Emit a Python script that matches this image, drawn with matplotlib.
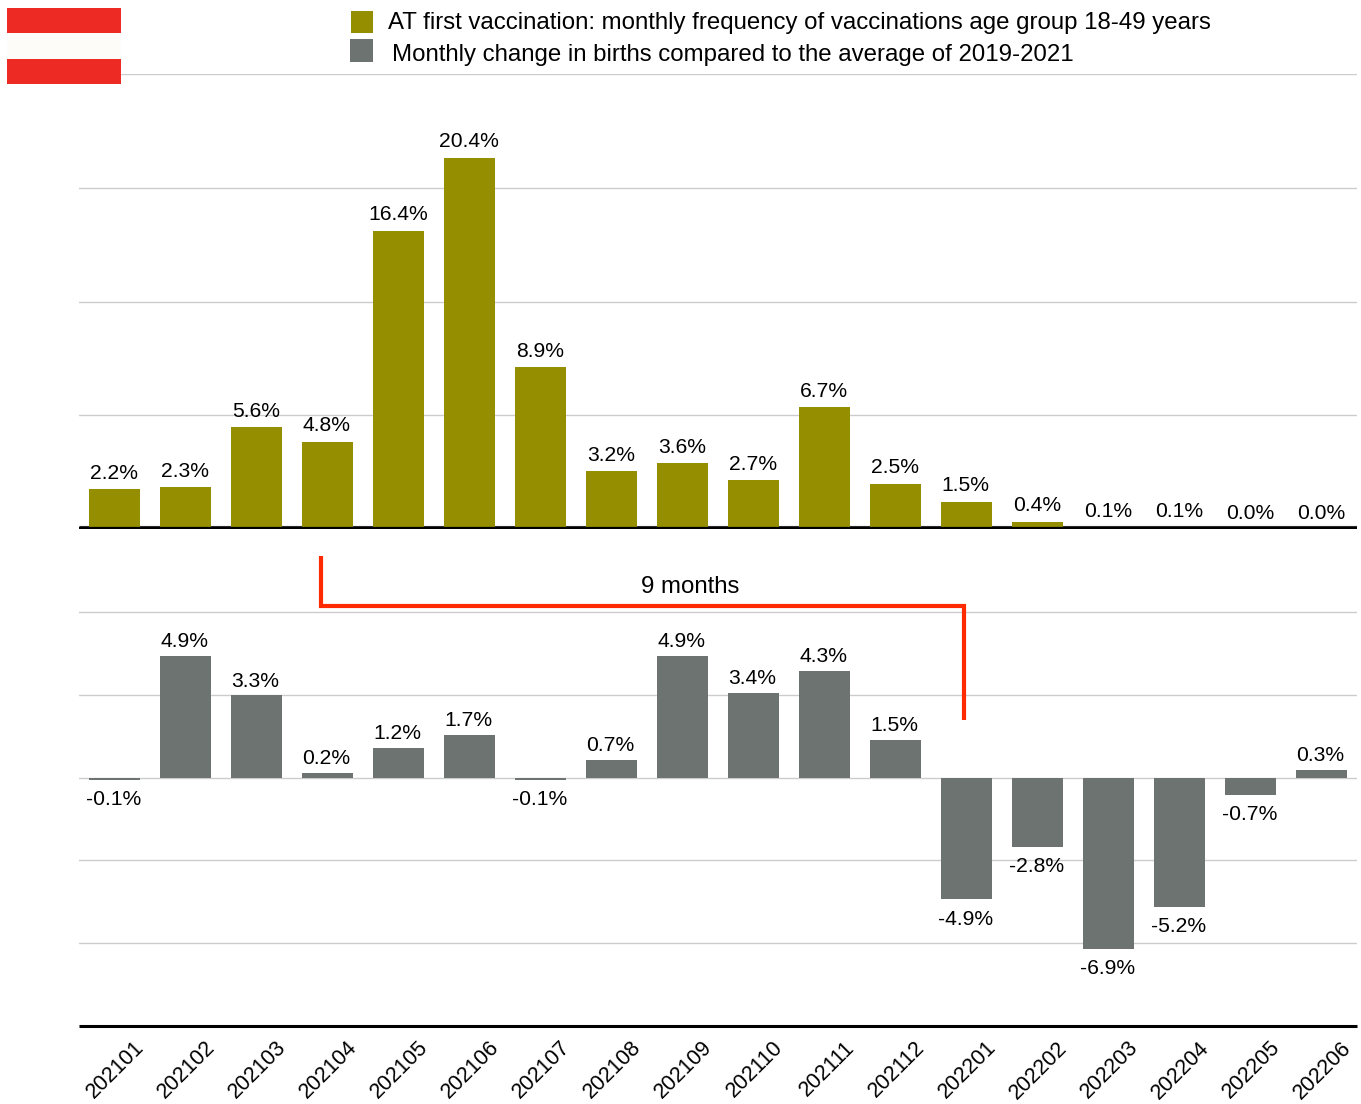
import matplotlib
matplotlib.use('Agg')
import matplotlib.pyplot as plt
from matplotlib.lines import Line2D
from matplotlib.patches import Rectangle
from matplotlib.transforms import ScaledTranslation

plt.rcParams['font.family'] = ['Liberation Sans', 'DejaVu Sans']

months = ['202101', '202102', '202103', '202104', '202105', '202106',
          '202107', '202108', '202109', '202110', '202111', '202112',
          '202201', '202202', '202203', '202204', '202205', '202206']
vaccinations = [2.2, 2.3, 5.6, 4.8, 16.4, 20.4, 8.9, 3.2, 3.6, 2.7, 6.7, 2.5,
                1.5, 0.4, 0.1, 0.1, 0.0, 0.0]
births = [-0.1, 4.9, 3.3, 0.2, 1.2, 1.7, -0.1, 0.7, 4.9, 3.4, 4.3, 1.5,
          -4.9, -2.8, -6.9, -5.2, -0.7, 0.3]
vacc_label = 'AT first vaccination: monthly frequency of vaccinations age group 18-49 years'
birth_label = 'Monthly change in births compared to the average of 2019-2021'

W, H = 1361, 1104
OLIVE = '#958E00'
GRAY = '#6D7370'
RED = '#FF2A00'
FLAG_RED = '#EE2A24'
GRID = '#CCCCCC'
FS = 15.2

fig = plt.figure(figsize=(W / 100, H / 100), dpi=100)


def axes_px(left, top, right, bottom):
    return fig.add_axes([left / W, 1 - bottom / H, (right - left) / W, (bottom - top) / H])


def rect_px(x0, y0, x1, y1, color):
    fig.add_artist(Rectangle((x0 / W, 1 - y1 / H), (x1 - x0) / W, (y1 - y0) / H,
                             transform=fig.transFigure, facecolor=color,
                             edgecolor='none', zorder=5))


def text_px(x, y, s, **kw):
    fig.text(x / W, 1 - y / H, s, va='center', color='black', zorder=6, **kw)


ax_top = axes_px(79, 74, 1357, 529)
ax_bot = axes_px(79, 529, 1357, 1026)

positions = list(range(len(months)))
for ax in (ax_top, ax_bot):
    ax.set_xlim(-0.5, len(months) - 0.5)
    ax.set_axisbelow(True)
    ax.grid(axis='y', color=GRID, linewidth=1.0)
    ax.tick_params(left=False, labelleft=False, bottom=False)
    for side in ('left', 'right', 'top'):
        ax.spines[side].set_visible(False)

# upper panel: vaccination frequency
ax_top.set_ylim(0, 25)
ax_top.set_yticks([0, 6.25, 12.5, 18.75, 25])
ax_top.spines['bottom'].set_visible(False)
ax_top.set_xticks([])
ax_top.axhline(0.14, color='#333333', linewidth=0.8, zorder=1.5, solid_capstyle='butt')
ax_top.bar(positions, vaccinations, width=0.72, color=OLIVE, zorder=2)
ax_top.axhline(0.06, color='black', linewidth=1.6, zorder=3, solid_capstyle='butt')
for x, v in zip(positions, vaccinations):
    ax_top.annotate(f'{v:.1f}%', (x, v), xytext=(-0.5, 4.5), textcoords='offset points',
                    ha='center', va='bottom', fontsize=FS)

# lower panel: change in births
ax_bot.set_ylim(-10, 10)
ax_bot.set_yticks([-6.667, -3.333, 0, 3.333, 6.667])
ax_bot.bar(positions, births, width=0.72, color=GRAY, zorder=2)
ax_bot.spines['bottom'].set_color('black')
ax_bot.spines['bottom'].set_linewidth(2.2)
ax_bot.spines['bottom'].set_capstyle('butt')
ax_bot.set_xticks(positions)
ax_bot.set_xticklabels(months, rotation=45, ha='right', rotation_mode='anchor', fontsize=FS + 0.3)
ax_bot.tick_params(axis='x', pad=4.5)
label_shift = ScaledTranslation(19 / 100, 0, fig.dpi_scale_trans)
for lab in ax_bot.get_xticklabels():
    lab.set_transform(lab.get_transform() + label_shift)
for x, v in zip(positions, births):
    if v < 0:
        ax_bot.annotate(f'{v:.1f}%', (x, v), xytext=(-0.7, -7.5), textcoords='offset points',
                        ha='center', va='top', fontsize=FS)
    else:
        ax_bot.annotate(f'{v:.1f}%', (x, v), xytext=(-0.7, 3.5), textcoords='offset points',
                        ha='center', va='bottom', fontsize=FS)

# 9 month bracket
fig.add_artist(Line2D([320.5 / W, 320.5 / W, 963.5 / W, 963.5 / W],
                      [1 - 556 / H, 1 - 606 / H, 1 - 606 / H, 1 - 720 / H],
                      transform=fig.transFigure, color=RED, linewidth=3.0,
                      solid_joinstyle='miter', solid_capstyle='butt', zorder=5))
text_px(690, 587, '9 months', ha='center', fontsize=17.3)

# flag
rect_px(7, 8, 121, 33, FLAG_RED)
rect_px(7, 33, 121, 59, '#FDFCF9')
rect_px(7, 59, 121, 84, FLAG_RED)

# legend
rect_px(351, 11, 373, 33, OLIVE)
rect_px(350, 39, 373, 62, GRAY)
text_px(388, 23, vacc_label, ha='left', fontsize=17.3)
text_px(392, 55, birth_label, ha='left', fontsize=17.3)

fig.savefig('out.png', dpi=100, facecolor='white')
